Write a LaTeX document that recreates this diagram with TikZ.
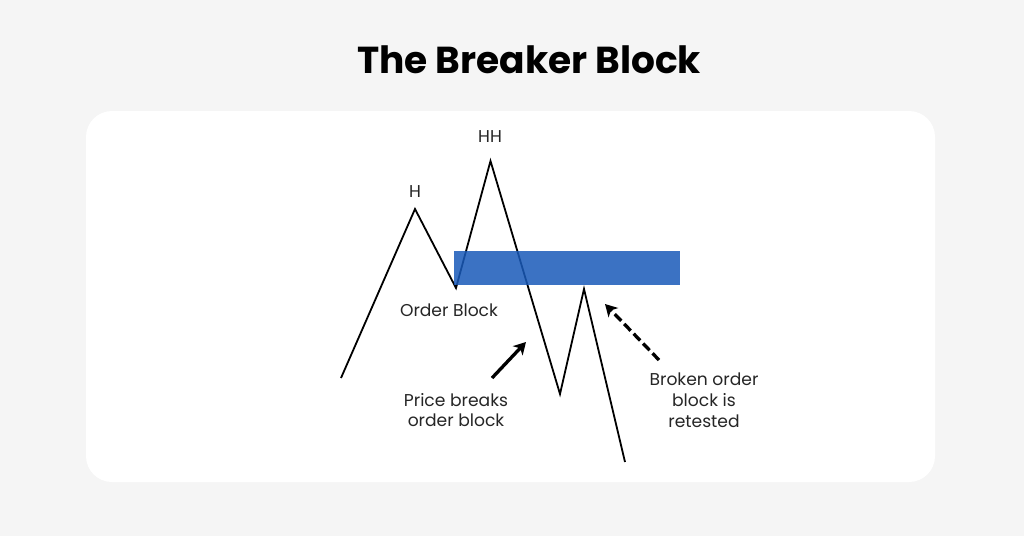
\documentclass[tikz,border=0pt]{standalone}
\usepackage{fontspec}
\setmainfont{Poppins}
\usetikzlibrary{arrows.meta}
\definecolor{pagebg}{HTML}{F5F5F5}
\definecolor{blockblue}{HTML}{195AB9}
\definecolor{labelgray}{HTML}{262626}
\tikzset{
 x=0.75pt,y=-0.75pt,
 lbl/.style={font=\fontsize{12.85pt}{15.6pt}\selectfont,text=labelgray,align=center,inner sep=0pt},
 pricepath/.style={draw=black,line width=1.35pt,line join=miter},
 callout/.style={draw=black,line width=2.5pt,-{Stealth[length=9pt,width=10pt,inset=2.5pt]}},
 calloutdash/.style={callout,dash pattern=on 7pt off 3.2pt},
}
\begin{document}
\begin{tikzpicture}
\useasboundingbox (0,0) rectangle (1024,536);
\fill[pagebg] (0,0) rectangle (1024,536);
\fill[white,rounded corners=19.5pt] (86,111) rectangle (935,482);
\node[font=\fontsize{28.15pt}{32pt}\selectfont\bfseries,text=black,inner sep=0pt] (title) at (529,60) {The Breaker Block};
\node[lbl] (h) at (415,192) {H};
\node[lbl] (hh) at (490,137) {HH};
\node[lbl] (ob) at (449,310) {Order Block};
\node[lbl] (pb) at (456,410) {Price breaks\\order block};
\node[lbl] (br) at (704,400) {Broken order\\block is\\retested};
\coordinate (p0) at (341,378);
\coordinate (p1) at (415,209);
\coordinate (p2) at (456,288);
\coordinate (p3) at (490.5,161);
\coordinate (p4) at (560,394);
\coordinate (p5) at (584,289);
\coordinate (p6) at (625,462);
\draw[pricepath] (p0)--(p1)--(p2)--(p3)--(p4)--(p5)--(p6);
\fill[blockblue,fill opacity=0.85] (454,251) rectangle (680,285);
\coordinate (a1) at (492,378);
\coordinate (a2) at (526,342);
\coordinate (b1) at (659,360);
\coordinate (b2) at (605,304);
\draw[callout] (a1)--(a2);
\draw[calloutdash] (b1)--(b2);
\end{tikzpicture}
\end{document}
